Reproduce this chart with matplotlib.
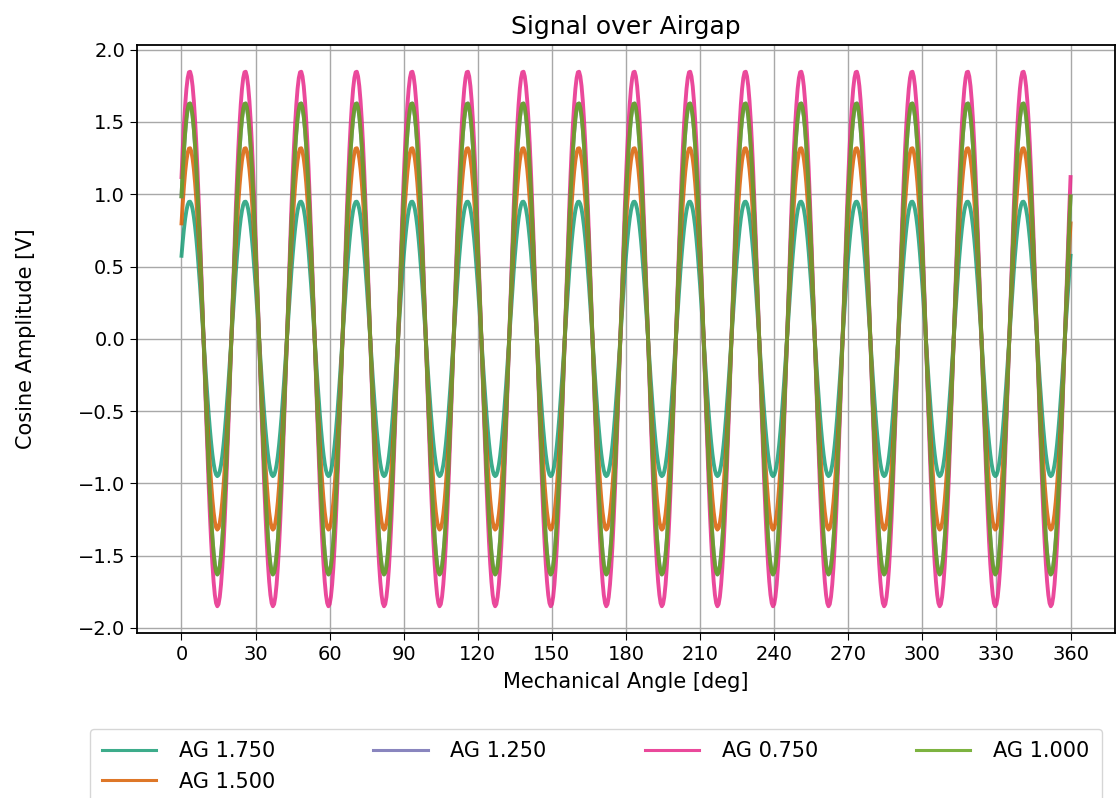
import numpy as np
import matplotlib
matplotlib.use("Agg")
import matplotlib.pyplot as plt

# airgap labels (legend order) and peak amplitudes
airgaps = ["AG 1.750", "AG 1.500", "AG 1.250", "AG 0.750", "AG 1.000"]
amplitudes = [0.95, 1.32, 1.63, 1.85, 1.63]
colors = ["#1b9e77", "#d95f02", "#7570b3", "#e7298a", "#66a61e"]

# signal shape: 16 periods per turn, first peak at ~3.3 deg
periods_per_rev = 16
peak_offset_deg = 3.3
angle_step = 0.5

x_ticks = list(range(0, 361, 30))

angle = np.arange(0, 360 + angle_step, angle_step)

fig = plt.figure(figsize=(11.16, 7.98), dpi=100)
ax = fig.add_axes([0.1228, 0.2068, 0.8763, 0.7368])

for label, amp, col in zip(airgaps, amplitudes, colors):
    signal = amp * np.cos(np.deg2rad(periods_per_rev * (angle - peak_offset_deg)))
    ax.plot(angle, signal, color=col, lw=2.8, alpha=0.85, label=label)

ax.set_xticks(x_ticks)
ax.grid(True, color="#a8a8a8", lw=1.0)
ax.tick_params(labelsize=14, length=5)
for sp in ax.spines.values():
    sp.set_linewidth(1.3)

ax.set_title("Signal over Airgap", fontsize=18, pad=8)
ax.set_xlabel("Mechanical Angle [deg]", fontsize=15, labelpad=6)
ax.set_ylabel("Cosine Amplitude [V]", fontsize=15, labelpad=30)

leg = ax.legend(loc="upper center", bbox_to_anchor=(0.469, -0.145), ncol=4,
                fontsize=15, handlelength=2.6, columnspacing=4.7,
                handletextpad=1.1, borderpad=0.6)
for h in leg.get_lines():
    h.set_linewidth(2.2)

fig.savefig("out.png", dpi=100)
